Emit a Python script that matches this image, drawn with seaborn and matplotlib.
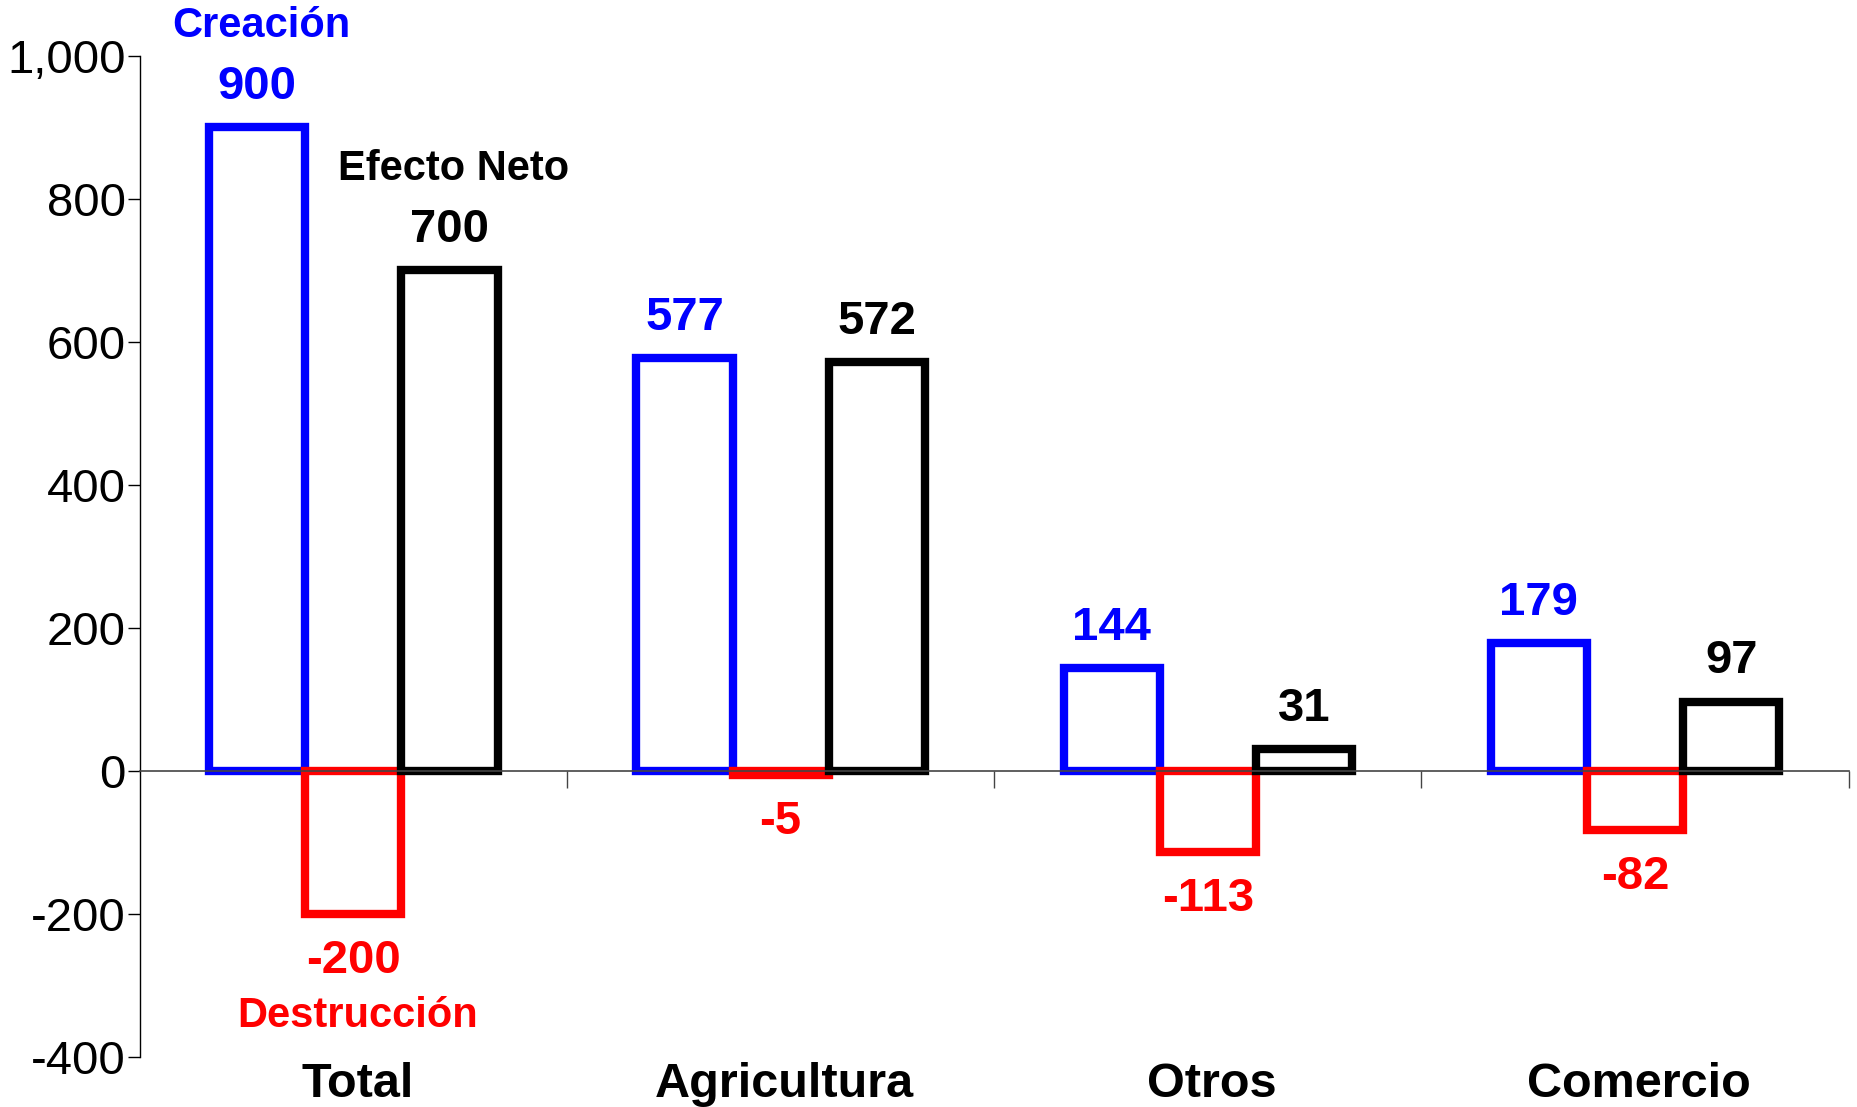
import matplotlib
matplotlib.use("Agg")
import matplotlib.pyplot as plt
import seaborn as sns
import pandas as pd
from matplotlib.ticker import FuncFormatter

categories = ["Total", "Agricultura", "Otros", "Comercio"]
series = ["Creación", "Destrucción", "Efecto Neto"]
creacion = [900, 577, 144, 179]
destruccion = [-200, -5, -113, -82]
neto = [700, 572, 31, 97]
colors = ["#0000FF", "#FF0000", "#000000"]
yticks = [-400, -200, 0, 200, 400, 600, 800, 1000]

rows = []
for s, vals in zip(series, [creacion, destruccion, neto]):
    for c, v in zip(categories, vals):
        rows.append({"cat": c, "serie": s, "val": v})
df = pd.DataFrame(rows)

sns.set_style("white")
plt.rcParams["font.family"] = ["Liberation Sans", "DejaVu Sans"]
plt.rcParams["text.color"] = "black"
plt.rcParams["xtick.color"] = "black"
plt.rcParams["ytick.color"] = "black"

fig = plt.figure(figsize=(18.57, 11.07), dpi=100)
ax = fig.add_axes([0.0753, 0.045, 0.9202, 0.9047])

sns.barplot(data=df, x="cat", y="val", hue="serie", order=categories,
            hue_order=series, palette=colors, fill=False, width=0.675,
            linewidth=6, errorbar=None, legend=False, ax=ax)

for p in ax.patches:
    p.set_clip_on(False)
    p.set_joinstyle("miter")

ax.set_xlim(-0.5, len(categories) - 0.5)
ax.set_ylim(-400, 1000)
ax.set_yticks(yticks)
ax.yaxis.set_major_formatter(FuncFormatter(lambda v, p: f"{int(v):,}"))
ax.tick_params(axis="y", direction="out", length=9, width=1, pad=1,
               labelsize=34, colors="black", left=True)

ax.spines["top"].set_visible(False)
ax.spines["right"].set_visible(False)
ax.spines["left"].set_linewidth(1)
ax.spines["left"].set_color("black")
ax.spines["bottom"].set_position(("data", 0))
ax.spines["bottom"].set_linewidth(1.2)
ax.spines["bottom"].set_color("#444444")
ax.set_xticks([i + 0.5 for i in range(len(categories))])
ax.set_xticklabels([])
ax.tick_params(axis="x", direction="out", length=12, width=1, bottom=True,
               colors="#444444")
ax.set_xlabel("")
ax.set_ylabel("")

for i, c in enumerate(categories):
    ax.annotate(c, xy=(i, 0), xycoords=("data", "axes fraction"),
                xytext=(3, -20), textcoords="offset points",
                ha="center", va="center", fontsize=35, fontweight="bold",
                color="black", annotation_clip=False)

for cont, col, name in zip(ax.containers, colors, series):
    for k, bar in enumerate(cont):
        x = bar.get_x() + bar.get_width() / 2
        h = bar.get_height()
        yv = bar.get_y() + h
        sign = -1 if h < 0 else 1
        ax.annotate(f"{int(round(h)):,}", xy=(x, yv),
                    xytext=(0, sign * (29 if sign > 0 else 34)),
                    textcoords="offset points", ha="center", va="center",
                    fontsize=34, fontweight="bold", color=col,
                    annotation_clip=False)
        if k == 0:
            ax.annotate(name, xy=(x, yv), xytext=(3, sign * 73),
                        textcoords="offset points", ha="center", va="center",
                        fontsize=30, fontweight="bold", color=col,
                        annotation_clip=False)

fig.savefig("out.png", dpi=100)
